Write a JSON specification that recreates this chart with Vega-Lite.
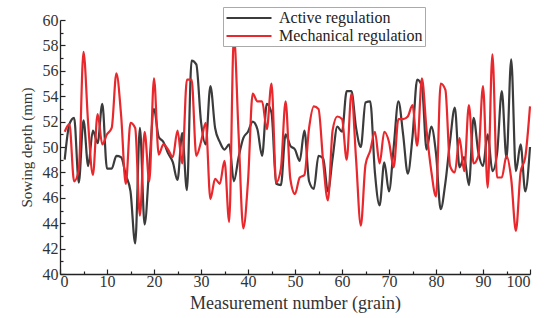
{
  "$schema": "https://vega.github.io/schema/vega-lite/v6.json",
  "width": 470,
  "height": 254,
  "autosize": {"type": "none"},
  "padding": {"left": 60, "top": 20, "right": 20, "bottom": 44},
  "background": "white",
  "config": {
    "view": {"stroke": null},
    "font": "Liberation Serif",
    "axis": {"grid": false, "domainColor": "#222", "tickColor": "#222", "labelColor": "#333", "titleColor": "#333", "labelFont": "Liberation Serif", "titleFont": "Liberation Serif", "titleFontWeight": "normal", "domainWidth": 1.3, "tickWidth": 1.2}
  },
  "data": {"values": [
    {"n":1,"a":49,"m":51.2},{"n":2,"a":51.8,"m":51.8},{"n":3,"a":52.3,"m":47.3},{"n":4,"a":47.2,"m":48.2},{"n":5,"a":52.1,"m":57.5},
    {"n":6,"a":48.5,"m":51.8},{"n":7,"a":51.3,"m":47.8},{"n":8,"a":50.3,"m":52.6},{"n":9,"a":53.4,"m":50.2},{"n":10,"a":48.3,"m":51},
    {"n":11,"a":48.3,"m":51.5},{"n":12,"a":49.3,"m":55.8},{"n":13,"a":49.2,"m":52.5},{"n":14,"a":47.8,"m":47.1},{"n":15,"a":46.5,"m":51.9},
    {"n":16,"a":42.4,"m":51.5},{"n":17,"a":51.5,"m":44.6},{"n":18,"a":43.9,"m":51.2},{"n":19,"a":48.5,"m":47.3},{"n":20,"a":53,"m":55.4},
    {"n":21,"a":50.8,"m":49.4},{"n":22,"a":50.4,"m":50.2},{"n":23,"a":49.5,"m":49.8},{"n":24,"a":48.8,"m":49.2},{"n":25,"a":47.4,"m":51.3},
    {"n":26,"a":51.1,"m":48.7},{"n":27,"a":46.6,"m":55.3},{"n":28,"a":56.8,"m":55.3},{"n":29,"a":56.5,"m":49.3},{"n":30,"a":52,"m":50.4},
    {"n":31,"a":50.2,"m":51.9},{"n":32,"a":54.8,"m":45.9},{"n":33,"a":51.5,"m":47.5},{"n":34,"a":50.4,"m":47.1},{"n":35,"a":49.8,"m":48.9},
    {"n":36,"a":50.2,"m":44.1},{"n":37,"a":47.3,"m":58.8},{"n":38,"a":49.2,"m":51},{"n":39,"a":50.7,"m":43.6},{"n":40,"a":51.2,"m":47.3},
    {"n":41,"a":52,"m":54.2},{"n":42,"a":51.4,"m":53.6},{"n":43,"a":49.3,"m":53.6},{"n":44,"a":53.4,"m":51.4},{"n":45,"a":52.7,"m":55},
    {"n":46,"a":47.1,"m":47.2},{"n":47,"a":47,"m":48.3},{"n":48,"a":51,"m":53.6},{"n":49,"a":50.1,"m":47.5},{"n":50,"a":49.8,"m":46.3},
    {"n":51,"a":48.9,"m":47.6},{"n":52,"a":51.3,"m":47.8},{"n":53,"a":47.3,"m":51.5},{"n":54,"a":46.7,"m":53.2},{"n":55,"a":49.3,"m":53},
    {"n":56,"a":49.1,"m":48.8},{"n":57,"a":46.5,"m":45.8},{"n":58,"a":49.1,"m":51.3},{"n":59,"a":51.6,"m":52.4},{"n":60,"a":51.2,"m":52.2},
    {"n":61,"a":54.4,"m":49},{"n":62,"a":54.4,"m":54.2},{"n":63,"a":51.5,"m":49},{"n":64,"a":50,"m":43.8},{"n":65,"a":53.5,"m":48.6},
    {"n":66,"a":53.6,"m":49.7},{"n":67,"a":48,"m":51.2},{"n":68,"a":45.4,"m":48.7},{"n":69,"a":48.8,"m":51.2},{"n":70,"a":46.5,"m":50.4},
    {"n":71,"a":50,"m":48.4},{"n":72,"a":53.6,"m":52.2},{"n":73,"a":51,"m":52.2},{"n":74,"a":47.9,"m":52.4},{"n":75,"a":50.8,"m":53.3},
    {"n":76,"a":55.3,"m":50.1},{"n":77,"a":54.8,"m":55.4},{"n":78,"a":49.8,"m":51.3},{"n":79,"a":51.6,"m":48.1},{"n":80,"a":49.5,"m":46.1},
    {"n":81,"a":45.1,"m":55},{"n":82,"a":47.2,"m":54.5},{"n":83,"a":50.5,"m":48.5},{"n":84,"a":53.1,"m":48},{"n":85,"a":48.4,"m":50.7},
    {"n":86,"a":49.2,"m":48.1},{"n":87,"a":47,"m":53.3},{"n":88,"a":52.3,"m":48.7},{"n":89,"a":49.6,"m":49.3},{"n":90,"a":48.5,"m":54.8},
    {"n":91,"a":51,"m":46.8},{"n":92,"a":48.1,"m":57.3},{"n":93,"a":49.5,"m":47.6},{"n":94,"a":54.4,"m":47.6},{"n":95,"a":49.1,"m":49.3},
    {"n":96,"a":56.9,"m":47.5},{"n":97,"a":48.1,"m":43.4},{"n":98,"a":50.2,"m":48},{"n":99,"a":46.5,"m":49.2},{"n":100,"a":50,"m":53.2}
  ]},
  "layer": [
    {
      "transform": [{"fold": ["a", "m"], "as": ["mode", "depth"]}],
      "mark": {"type": "line", "strokeWidth": 2.2, "interpolate": "monotone"},
      "encoding": {
        "x": {"field": "n", "type": "quantitative", "scale": {"domain": [0, 100], "nice": false}, "axis": {"values": [0,10,20,30,40,50,60,70,80,90,100], "tickSize": -5, "labelPadding": 4, "labelFontSize": 16, "title": "Measurement number (grain)", "titleFontSize": 18, "titlePadding": 5}},
        "y": {"field": "depth", "type": "quantitative", "scale": {"domain": [40, 60], "nice": false}, "axis": {"values": [40,42,44,46,48,50,52,54,56,58,60], "tickSize": -5, "labelPadding": 7, "labelFontSize": 16, "title": "Sowing depth (mm)", "titleFontSize": 15, "titlePadding": 8}},
        "color": {"field": "mode", "type": "nominal", "scale": {"domain": ["a", "m"], "range": ["#3b3b3b", "#e8282c"]},
          "legend": {"orient": "none", "legendX": 163, "legendY": -13, "title": null, "labelExpr": "datum.label == 'a' ? 'Active regulation' : 'Mechanical regulation'", "labelLimit": 400, "symbolType": "M-3,0H3", "symbolSize": 225, "symbolStrokeWidth": 2.2, "labelFontSize": 16, "labelFont": "Liberation Serif", "labelColor": "#222", "strokeColor": "#aaa", "fillColor": "white", "padding": 2, "rowPadding": 1, "labelOffset": 21, "symbolOffset": 15}}
      }
    },
    {
      "data": {"values": [{"z": 0}]},
      "mark": {"type": "rule", "opacity": 0},
      "encoding": {
        "x": {"field": "z", "type": "quantitative", "scale": {"domain": [0, 100], "nice": false}, "axis": {"orient": "bottom", "values": [5,15,25,35,45,55,65,75,85,95], "tickSize": -3, "labels": false, "domain": false, "title": null}},
        "y": {"field": "z", "type": "quantitative", "scale": {"domain": [40, 60], "nice": false}, "axis": {"orient": "left", "values": [41,43,45,47,49,51,53,55,57,59], "tickSize": -3, "labels": false, "domain": false, "title": null}}
      }
    }
  ],
  "resolve": {"scale": {"x": "independent", "y": "independent"}, "axis": {"x": "independent", "y": "independent"}}
}
